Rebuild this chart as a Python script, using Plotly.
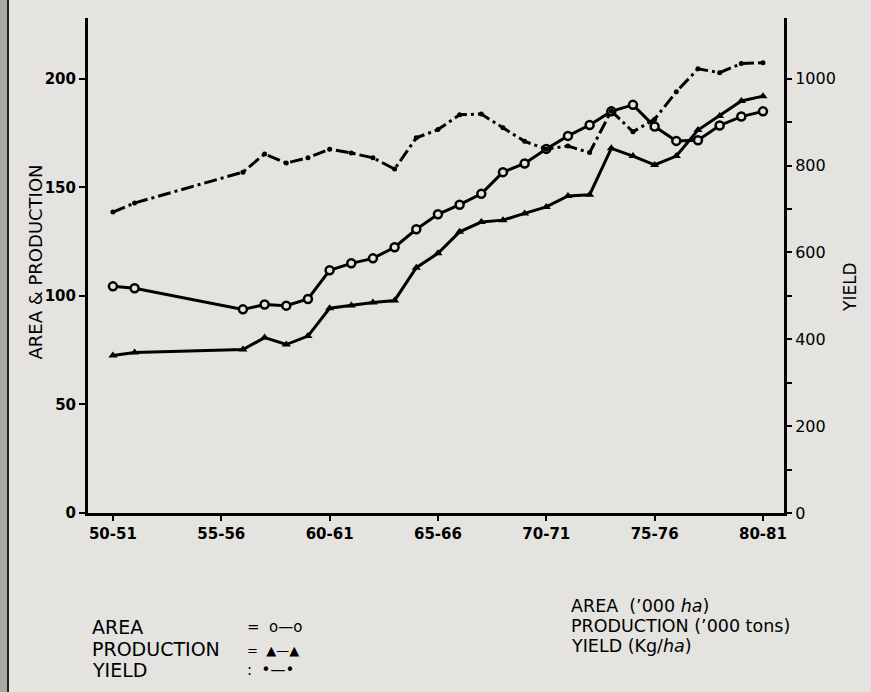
import plotly.graph_objects as go

# ---- data ----
seasons = ["1950-51", "1951-52", "1956-57", "1957-58", "1958-59", "1959-60", "1960-61",
           "1961-62", "1962-63", "1963-64", "1964-65", "1965-66", "1966-67", "1967-68",
           "1968-69", "1969-70", "1970-71", "1971-72", "1972-73", "1973-74", "1974-75",
           "1975-76", "1976-77", "1977-78", "1978-79", "1979-80", "1980-81"]
year_start = [int(s[:4]) for s in seasons]

area = [104.4, 103.5, 93.8, 96.0, 95.5, 98.6, 111.8, 115.0, 117.3, 122.4, 130.7, 137.6,
        142.0, 147.0, 157.0, 161.0, 167.7, 173.7, 178.7, 185.0, 188.0, 178.0, 171.4,
        171.7, 178.5, 182.6, 185.0]
production = [72.5, 73.9, 75.3, 80.8, 77.6, 81.5, 94.3, 95.6, 97.0, 97.9, 113.0, 119.6,
              129.5, 134.0, 134.9, 138.0, 141.0, 146.0, 146.6, 168.0, 164.4, 160.3, 164.4,
              176.4, 182.9, 189.8, 192.0]
yield_kg = [693, 714, 785, 827, 806, 818, 838, 829, 818, 792, 864, 883, 917, 919, 887,
            856, 838, 845, 830, 926, 878, 907, 970, 1023, 1014, 1035, 1037]

x_tick_years = [1950, 1955, 1960, 1965, 1970, 1975, 1980]
x_tick_text = ["50-51", "55-56", "60-61", "65-66", "70-71", "75-76", "80-81"]
left_ticks = [0, 50, 100, 150, 200]
right_ticks = [0, 200, 400, 600, 800, 1000]
right_minor = [100, 300, 500, 700, 900]

BG = "#e4e3df"
FONT = "DejaVu Sans"

fig = go.Figure()
fig.add_trace(go.Scatter(
    x=year_start, y=area, name="AREA", mode="lines+markers",
    line=dict(color="black", width=3),
    marker=dict(symbol="circle", size=8, color=BG, line=dict(color="black", width=2.5)),
))
fig.add_trace(go.Scatter(
    x=year_start, y=production, name="PRODUCTION", mode="lines+markers",
    line=dict(color="black", width=3),
    marker=dict(symbol="triangle-up", size=8, color="black"),
))
fig.add_trace(go.Scatter(
    x=year_start, y=yield_kg, name="YIELD", mode="lines+markers", yaxis="y2",
    line=dict(color="black", width=3, dash="13px,4px,3px,4px"),
    marker=dict(symbol="circle", size=5, color="black"),
))

W, H = 871, 692
L, R, T, B = 88, 87, 18, 179
pw, ph = W - L - R, H - T - B


def px(x):
    return (x - L) / pw


def py(y):
    return (H - B - y) / ph


annotations = [
    dict(text="AREA & PRODUCTION", x=px(22), y=py(262), textangle=-90,
         font=dict(size=18)),
    dict(text="YIELD", x=px(862), y=py(287), textangle=-90, font=dict(size=17)),
    dict(text="AREA", x=px(90), y=py(640), xanchor="left", font=dict(size=19)),
    dict(text="PRODUCTION", x=px(90), y=py(662), xanchor="left", font=dict(size=19)),
    dict(text="YIELD", x=px(90), y=py(683), xanchor="left", font=dict(size=19)),
    dict(text="=  o\u2014o", x=px(245), y=py(638), xanchor="left", font=dict(size=15)),
    dict(text="=  \u25b2\u2014\u25b2", x=px(245), y=py(660), xanchor="left", font=dict(size=13)),
    dict(text=":  \u2022\u2014\u2022", x=px(245), y=py(681), xanchor="left", font=dict(size=15)),
    dict(text="AREA  (\u2019000 <i>ha</i>)", x=px(569), y=py(618), xanchor="left",
         font=dict(size=17.5)),
    dict(text="PRODUCTION (\u2019000 tons)", x=px(569), y=py(638), xanchor="left",
         font=dict(size=17.5)),
    dict(text="YIELD (Kg/<i>ha</i>)", x=px(569), y=py(658), xanchor="left",
         font=dict(size=17.5)),
]
for a in annotations:
    a.update(xref="paper", yref="paper", showarrow=False)
    a["font"].update(family=FONT, color="black")

shapes = [
    dict(type="rect", xref="paper", yref="paper", x0=px(0), x1=px(7), y0=py(H), y1=py(0),
         fillcolor="#a9a8a3", line=dict(width=0), layer="below"),
    dict(type="line", xref="paper", yref="paper", x0=px(8), x1=px(8), y0=py(H), y1=py(0),
         line=dict(color="#222", width=2)),
]

axis_common = dict(showgrid=False, zeroline=False, showline=True, linecolor="black",
                   linewidth=3, ticks="outside", tickcolor="black", tickwidth=2)
tick_font = dict(family=FONT, size=15, color="black", weight="bold")

fig.update_layout(
    width=W, height=H,
    margin=dict(l=L, r=R, t=T, b=B),
    paper_bgcolor=BG, plot_bgcolor=BG,
    showlegend=False,
    font=dict(family=FONT, color="black"),
    xaxis=dict(range=[1948.85, 1980.97], tickvals=x_tick_years, ticktext=x_tick_text,
               ticklen=5, tickfont=dict(family=FONT, size=15, color="black", weight="bold"),
               **axis_common),
    yaxis=dict(range=[0, 228], tickvals=left_ticks, ticklen=6, tickfont=tick_font,
               **axis_common),
    yaxis2=dict(range=[0, 1140], tickvals=right_ticks, overlaying="y", side="right",
                ticklen=5, tickfont=dict(family=FONT, size=16, color="black"),
                minor=dict(tickvals=right_minor, ticks="outside", ticklen=5,
                           tickwidth=2, tickcolor="black"),
                **axis_common),
    annotations=annotations,
    shapes=shapes,
)

fig.write_html("out.html", config={"displayModeBar": False},
               post_script="document.body.style.margin='0';document.body.style.overflow='hidden';")
